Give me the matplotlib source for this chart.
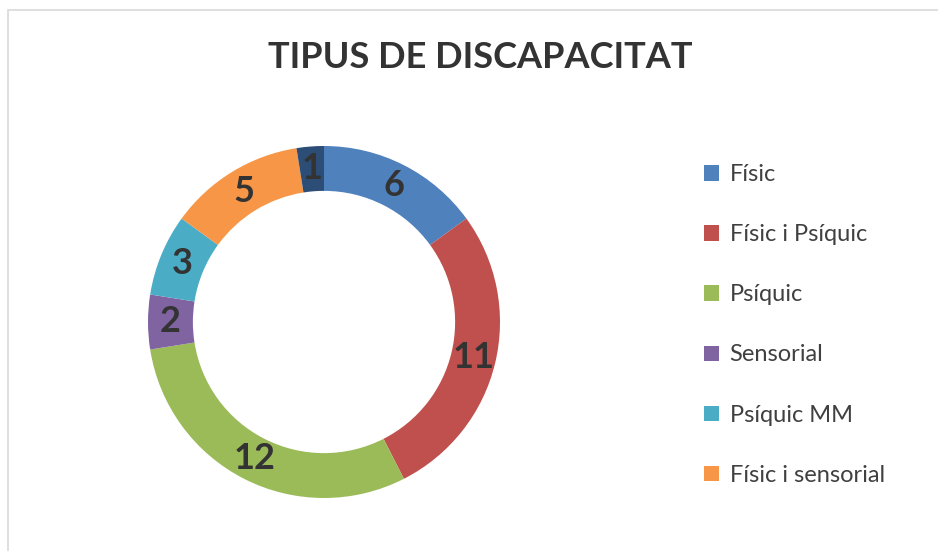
import matplotlib.pyplot as plt
from matplotlib.patches import Rectangle

categories = ['Físic', 'Físic i Psíquic', 'Psíquic', 'Sensorial', 'Psíquic MM', 'Físic i sensorial']
values = [6, 11, 12, 2, 3, 5, 1]
colors = ['#4F81BD', '#C0504D', '#9BBB59', '#8064A2', '#4BACC6', '#F79646', '#2C4D75']

plt.rcParams['font.family'] = ['Lato', 'DejaVu Sans']

fig = plt.figure(figsize=(9.38, 5.51), dpi=100)

# light frame of the chart area
fig.patches.append(Rectangle((8 / 938, -0.1), 1.2, (551 - 10) / 551 + 0.1,
                             transform=fig.transFigure, fill=False,
                             edgecolor='#D9D9D9', linewidth=1.2))

ax = fig.add_axes([(324 - 176) / 938, (229 - 176) / 551, 352 / 938, 352 / 551])
wedges, texts = ax.pie(values, colors=colors, startangle=90, counterclock=False,
                       radius=1, wedgeprops=dict(width=0.255, linewidth=0),
                       labels=[str(v) for v in values], labeldistance=0.8725,
                       textprops=dict(fontsize=26, fontweight='bold', color='#333333',
                                      ha='center', va='center'))
ax.set_xlim(-1, 1)
ax.set_ylim(-1, 1)
ax.set_aspect('equal')
ax.axis('off')

fig.text(480 / 938, 1 - 57 / 551, 'TIPUS DE DISCAPACITAT', ha='center', va='center',
         fontsize=26, fontweight='bold', color='#333333')

fig.legend(wedges[:6], categories, loc='upper left',
           bbox_to_anchor=(683 / 938, 1 - 143 / 551), frameon=False,
           fontsize=17, labelcolor='#404040', labelspacing=1.655,
           handlelength=0.62, handleheight=0.62, handletextpad=0.45)

fig.savefig('out.png', dpi=100, facecolor='white')
